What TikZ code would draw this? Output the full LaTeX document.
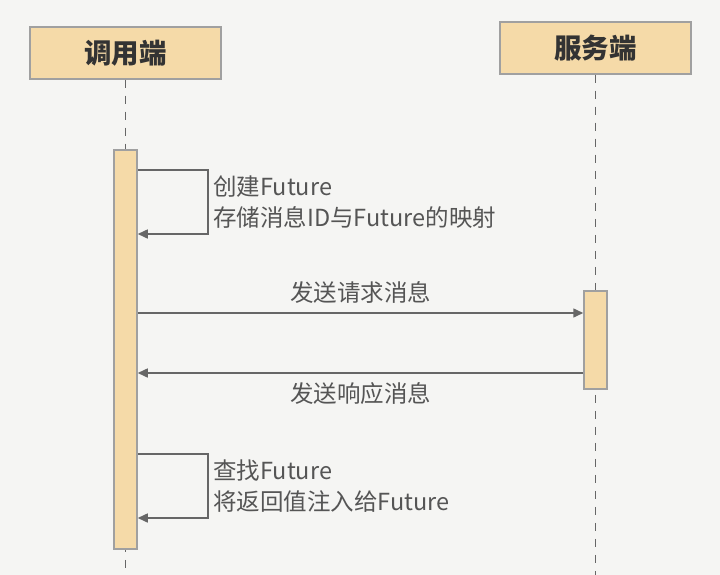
\documentclass[tikz,border=0pt]{standalone}
\usepackage{fontspec}
\setmainfont{Noto Sans CJK SC}
\usetikzlibrary{arrows.meta}

\definecolor{bgcol}{HTML}{F5F5F3}
\definecolor{boxcol}{HTML}{F5DAA8}
\definecolor{edgecol}{HTML}{A0A0A0}
\definecolor{linecol}{HTML}{666666}
\definecolor{txtcol}{HTML}{555555}

\tikzset{
  header/.style={draw=edgecol, line width=1.5pt, fill=boxcol, minimum width=191pt, minimum height=52pt,
    inner sep=0pt, font=\fontsize{27.5}{32}\selectfont\bfseries, text=black!80},
  activation/.style={draw=edgecol, line width=1.5pt, fill=boxcol, minimum width=23pt, inner sep=0pt},
  lifeline/.style={linecol, line width=1.5pt, dash pattern=on 8pt off 8pt},
  msg/.style={linecol, line width=1.5pt, -{Triangle[length=10pt,width=9pt]}},
  msglabel/.style={text=txtcol, font=\fontsize{23.5}{31}\selectfont, inner sep=0pt},
}

\begin{document}
\begin{tikzpicture}[x=1pt, y=-1pt]
    \fill[bgcol] (0,0) rectangle (720,575);
    \useasboundingbox (0,0) rectangle (720,575);

    % Headers
    \node[header] (caller) at (125.5,53) {调用端};
    \node[header] (server) at (595.5,48) {服务端};

    % Lifelines
    \coordinate (callend) at (125.5,575);
    \coordinate (servend) at (595.5,575);
    \draw[lifeline] (caller.south) -- (callend);
    \draw[lifeline] (server.south) -- (servend);

    % Activation bars
    \node[activation, minimum height=399pt] (callact) at (125.5,349.5) {};
    \node[activation, minimum height=98pt] (servact) at (595.5,340) {};

    % Create future
    \coordinate (s1) at (callact.east |- 0,170);
    \coordinate (e1) at (callact.east |- 0,234);
    \draw[msg] (s1) -- ++(70,0) |- (e1);
    \node[msglabel, anchor=west, align=left] (create) at (213,202.5) {创建Future\\存储消息ID与Future的映射};

    % Request and response
    \draw[msg] (callact.east |- 0,313) -- (servact.west |- 0,313) node[msglabel, midway, above=9pt] (req) {发送请求消息};
    \draw[msg] (servact.west |- 0,373) -- (callact.east |- 0,373) node[msglabel, midway, below=9pt] (resp) {发送响应消息};

    % Look up future
    \coordinate (s2) at (callact.east |- 0,454);
    \coordinate (e2) at (callact.east |- 0,518);
    \draw[msg] (s2) -- ++(70,0) |- (e2);
    \node[msglabel, anchor=west, align=left] (lookup) at (213,486.5) {查找Future\\将返回值注入给Future};
\end{tikzpicture}
\end{document}
